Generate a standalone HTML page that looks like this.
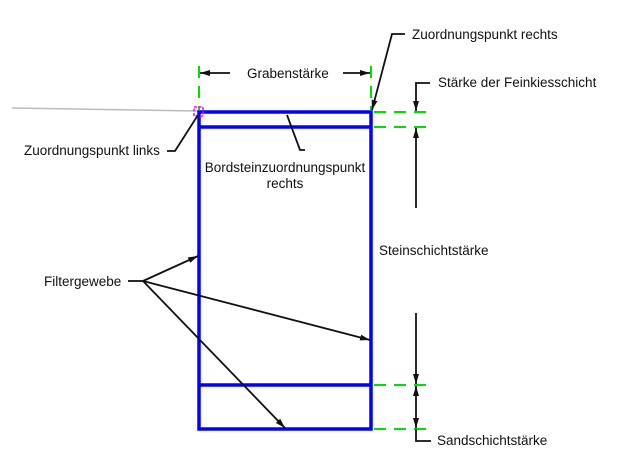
<!DOCTYPE html>
<html><head><meta charset="utf-8"><style>
html,body{margin:0;padding:0;background:#fff;}
svg{display:block;}
text{font-family:"Liberation Sans",sans-serif;font-size:13.5px;fill:#111;}
</style></head><body>
<svg width="618" height="465" viewBox="0 0 618 465" xmlns="http://www.w3.org/2000/svg">
<defs>
<marker id="a" viewBox="0 0 10 6" refX="10" refY="3" markerWidth="10" markerHeight="6" orient="auto" markerUnits="userSpaceOnUse">
<path d="M0,0 L10,3 L0,6 z" fill="#111"/></marker>
</defs>
<line x1="12" y1="108" x2="198" y2="111" stroke="#bbb" stroke-width="1.5"/>
<g stroke="#00e000" stroke-width="2" stroke-dasharray="12,8">
<line x1="199" y1="66" x2="199" y2="110"/>
<line x1="371" y1="66" x2="371" y2="110"/>
<line x1="374" y1="112" x2="426" y2="112"/>
<line x1="374" y1="127" x2="426" y2="127"/>
<line x1="374" y1="385" x2="426" y2="385"/>
<line x1="374" y1="429" x2="426" y2="429"/>
</g>
<g stroke="#0000ff" stroke-width="3.5" fill="none">
<rect x="199" y="112" width="172" height="317"/>
<line x1="199" y1="127" x2="371" y2="127"/>
<line x1="199" y1="385" x2="371" y2="385"/>
</g>
<rect x="194" y="107" width="9" height="9" fill="none" stroke="#ff00ff" stroke-width="1.5" stroke-dasharray="3,1.5"/>
<g stroke="#111" stroke-width="1.8" fill="none">
<line x1="230" y1="73" x2="200" y2="73" marker-end="url(#a)"/>
<line x1="343" y1="73" x2="370" y2="73" marker-end="url(#a)"/>
<polyline points="405,34 392,34 372,110" marker-end="url(#a)"/>
<polyline points="430,83 416,83 416,111" marker-end="url(#a)"/>
<line x1="416" y1="208" x2="416" y2="128" marker-end="url(#a)"/>
<line x1="416" y1="313" x2="416" y2="384" marker-end="url(#a)"/>
<line x1="416" y1="400" x2="416" y2="386" marker-end="url(#a)"/>
<line x1="416" y1="400" x2="416" y2="428" marker-end="url(#a)"/>
<polyline points="416,429 416,441 431,441"/>
<polyline points="167,151 175,151 198,115"/>
<polyline points="305,150 300,150 287,115"/>
<line x1="128" y1="281" x2="143" y2="281"/>
<line x1="143" y1="281" x2="198" y2="256" marker-end="url(#a)"/>
<line x1="143" y1="281" x2="370" y2="340" marker-end="url(#a)"/>
<line x1="143" y1="281" x2="285" y2="428" marker-end="url(#a)"/>
</g>
<text x="247" y="78">Grabenstärke</text>
<text x="412" y="39">Zuordnungspunkt rechts</text>
<text x="438" y="87">Stärke der Feinkiesschicht</text>
<text x="24" y="155">Zuordnungspunkt links</text>
<text x="285" y="172" text-anchor="middle">Bordsteinzuordnungspunkt</text>
<text x="285" y="188" text-anchor="middle">rechts</text>
<text x="379" y="255">Steinschichtstärke</text>
<text x="44" y="286">Filtergewebe</text>
<text x="437" y="445">Sandschichtstärke</text>
</svg>
</body></html>
